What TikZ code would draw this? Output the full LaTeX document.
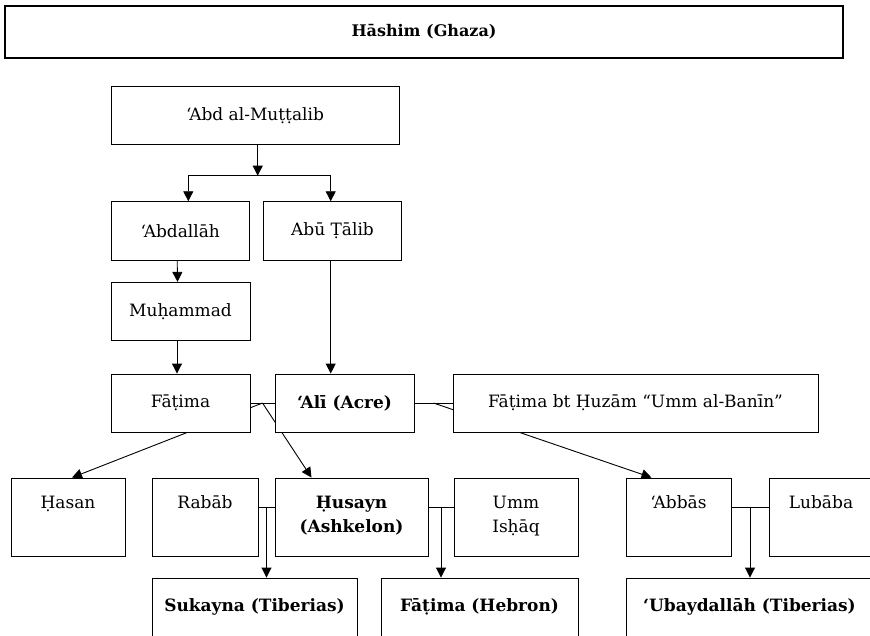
\documentclass[tikz,border=0pt]{standalone}
\usepackage{fontspec}
\setmainfont{DejaVu Serif}
\usetikzlibrary{arrows.meta}
\usetikzlibrary{calc}
\usetikzlibrary{backgrounds}

\begin{document}
\begin{tikzpicture}[x=1pt,y=1pt,yscale=-1,xscale=1,
	box/.style={draw, fill=white, line width=0.9pt, inner sep=0pt, align=center, font=\fontsize{17}{24}\selectfont},
	topbox/.style={box, minimum height=78pt, text height=30pt, text depth=48pt},
	topboxtwo/.style={box, minimum height=78pt, text height=54pt, text depth=24pt},
	arr/.style={line width=0.9pt, -{Triangle[length=10pt,width=10pt]}},
	wed/.style={line width=0.9pt}]
		\useasboundingbox (0,0) rectangle (870,635);
		\clip (0,0) rectangle (870,635);

		% Top row
		\node [box, minimum width=838pt, minimum height=52pt, line width=1.6pt, font=\bfseries\fontsize{16}{18}\selectfont] (hashim) at (424,32) {Hāshim (Ghaza)};
		\node [box, minimum width=288pt, minimum height=58pt] (muttalib) at (255,115.5) {‘Abd al-Muṭṭalib};
		\node [box, minimum width=138pt, minimum height=58.6pt] (abdallah) at (180.2,231) {‘Abdallāh};
		\node [box, minimum width=138pt, minimum height=58.6pt] (abutalib) at (332.5,231) {Abū Ṭālib};
		\node [box, minimum width=139pt, minimum height=58.4pt] (muhammad) at (180.5,311.5) {Muḥammad};

		% Parents
		\node [box, minimum width=139pt, minimum height=58pt] (fatima) at (180.5,403) {Fāṭima};
		\node [box, minimum width=139pt, minimum height=58pt] (ali) at (344.5,403) {\bfseries ‘Alī (Acre)};
		\node [box, minimum width=365pt, minimum height=58pt] (banin) at (635.5,403) {Fāṭima bt Ḥuzām “Umm al-Banīn”};

		% Children and wives
		\node [topbox, minimum width=114pt] (hasan) at (68,517) {Ḥasan};
		\node [topbox, minimum width=106pt] (rabab) at (205,517) {Rabāb};
		\node [topboxtwo, minimum width=153pt] (husayn) at (351.5,517) {\bfseries Ḥusayn\\\bfseries (Ashkelon)};
		\node [topboxtwo, minimum width=124pt] (ummishaq) at (516,517) {Umm\\Isḥāq};
		\node [topbox, minimum width=105pt] (abbas) at (678.5,517) {‘Abbās};
		\node [topbox, minimum width=104pt] (lubaba) at (821,517) {Lubāba};

		% Grandchildren
		\node [box, minimum width=205pt, minimum height=58pt] (sukayna) at (254.5,607) {\bfseries Sukayna (Tiberias)};
		\node [box, minimum width=197pt, minimum height=58pt] (fatimaheb) at (479.5,607) {\bfseries Fāṭima (Hebron)};
		\node [box, minimum width=247pt, minimum height=58pt] (ubaydallah) at (749.5,607) {\bfseries ‘Ubaydallāh (Tiberias)};

		\begin{scope}[on background layer]
		% Descent from 'Abd al-Muttalib
		\coordinate (barL) at (188.3,175.7);
		\coordinate (barM) at (257.7,175.7);
		\coordinate (barR) at (330.7,175.7);
		\draw [arr] (barM |- muttalib.south) -- (barM);
		\draw [wed] (barL) -- (barR);
		\draw [arr] (barL) -- (barL |- abdallah.north);
		\draw [arr] (barR) -- (barR |- abutalib.north);
		\draw [arr] ([xshift=-3pt]abdallah.south) -- ([xshift=-3pt]muhammad.north);
		\draw [arr] ([xshift=-3.5pt]muhammad.south) -- ([xshift=-3.5pt]fatima.north);
		\draw [arr] ([xshift=-1.8pt]abutalib.south) -- ([xshift=-13.8pt]ali.north);

		% Marriages of 'Ali
		\draw [wed] (fatima.east) -- coordinate (fa) (ali.west);
		\draw [arr] (fa) -- ([xshift=4pt]hasan.north);
		\draw [arr] (fa) -- ([xshift=-40pt]husayn.north);
		\draw [wed] (ali.east) -- coordinate (ab) (banin.west);
		\draw [arr] (ab) -- ([xshift=-27pt]abbas.north);

		% Marriages of the sons
		\draw [wed] ([yshift=-9.3pt]rabab.east) -- coordinate (rh) ([yshift=-9.3pt]husayn.west);
		\draw [arr] (rh) -- (rh |- sukayna.north);
		\draw [wed] ([yshift=-9.3pt]husayn.east) -- coordinate (hu) ([yshift=-9.3pt]ummishaq.west);
		\draw [arr] (hu) -- (hu |- fatimaheb.north);
		\draw [wed] ([yshift=-9.3pt]abbas.east) -- coordinate (al) ([yshift=-9.3pt]lubaba.west);
		\draw [arr] (al) -- (al |- ubaydallah.north);
		\end{scope}

\end{tikzpicture}
\end{document}
